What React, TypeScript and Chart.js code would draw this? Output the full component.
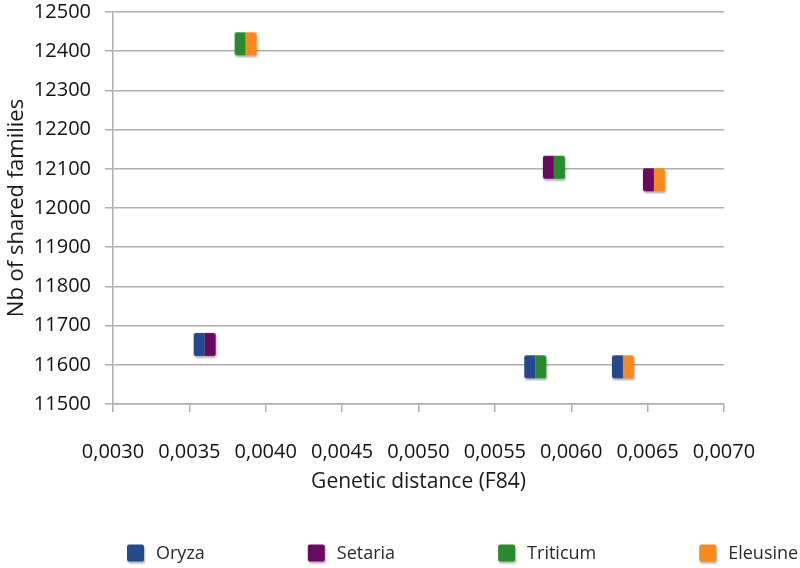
import React, { useEffect, useRef } from "react";
import { Chart, registerables } from "chart.js";

Chart.register(...registerables);

// ---- Data ----
const species = ["Oryza", "Setaria", "Triticum", "Eleusine"];
const speciesColors = ["#24498c", "#6a0a5e", "#2a8a2e", "#f7891f"];
// each pair: first species (left half of marker), second species (right half)
const pairFirst = [0, 2, 1, 1, 0, 0];
const pairSecond = [1, 3, 2, 3, 2, 3];
const pairDistance = [0.0036, 0.003868, 0.005886, 0.006541, 0.005764, 0.006338];
const pairShared = [11652, 12419, 12104, 12072, 11595, 11595];

const xMin = 0.003;
const xMax = 0.007;
const xStep = 0.0005;
const yMin = 11500;
const yMax = 12500;
const yStep = 100;

const FONT = "'Open Sans', 'Noto Sans', sans-serif";
const GRID = "#afafaf";

function halfMarker(color: string, side: "left" | "right"): HTMLCanvasElement {
  const pad = 3;
  const w = 22;
  const h = 23;
  const c = document.createElement("canvas");
  c.width = w + pad * 2;
  c.height = h + pad * 2;
  const ctx = c.getContext("2d")!;
  ctx.shadowColor = "rgba(0,0,0,0.3)";
  ctx.shadowOffsetX = 1;
  ctx.shadowOffsetY = 2;
  ctx.shadowBlur = 2;
  ctx.fillStyle = color;
  ctx.beginPath();
  const hw = w / 2;
  if (side === "left") {
    (ctx as any).roundRect(pad, pad, hw, h, [2, 0, 0, 2]);
  } else {
    (ctx as any).roundRect(pad + hw, pad, hw, h, [0, 2, 2, 0]);
  }
  ctx.fill();
  return c;
}

const legendPlugin = {
  id: "customLegend",
  afterDraw(chart: any) {
    const ctx = chart.ctx as CanvasRenderingContext2D;
    ctx.save();
    ctx.font = `18px ${FONT}`;
    ctx.textBaseline = "middle";
    ctx.textAlign = "left";
    let x = 127;
    const cy = 553;
    const box = 17;
    chart.data.datasets.forEach((ds: any) => {
      ctx.save();
      ctx.shadowColor = "rgba(0,0,0,0.3)";
      ctx.shadowOffsetX = 1;
      ctx.shadowOffsetY = 2;
      ctx.shadowBlur = 2;
      ctx.fillStyle = ds.backgroundColor;
      ctx.beginPath();
      (ctx as any).roundRect(x, cy - box / 2, box, box, 2);
      ctx.fill();
      ctx.restore();
      ctx.fillStyle = "#2a2a2a";
      ctx.fillText(ds.label, x + box + 12, cy + 1);
      const tw = ctx.measureText(ds.label).width;
      x += box + 12 + tw + 103;
    });
    ctx.restore();
  },
};

export default function App() {
  const ref = useRef<HTMLCanvasElement | null>(null);

  useEffect(() => {
    document.body.style.margin = "0";
    const canvas = ref.current!;
    const datasets = species.map((name, si) => {
      const data: { x: number; y: number }[] = [];
      const styles: HTMLCanvasElement[] = [];
      pairFirst.forEach((f, pi) => {
        if (f === si) {
          data.push({ x: pairDistance[pi], y: pairShared[pi] });
          styles.push(halfMarker(speciesColors[si], "left"));
        }
        if (pairSecond[pi] === si) {
          data.push({ x: pairDistance[pi], y: pairShared[pi] });
          styles.push(halfMarker(speciesColors[si], "right"));
        }
      });
      return {
        label: name,
        data,
        backgroundColor: speciesColors[si],
        borderColor: speciesColors[si],
        pointStyle: styles,
        pointRadius: 11,
        pointHoverRadius: 11,
        order: species.length - si,
      };
    });

    const chart = new Chart(canvas, {
      type: "scatter",
      data: { datasets: datasets as any },
      options: {
        responsive: false,
        animation: false,
        layout: { padding: { left: 0, right: 76, top: 8, bottom: 73 } },
        plugins: {
          legend: { display: false },
          tooltip: { enabled: false },
        },
        scales: {
          x: {
            type: "linear",
            position: "bottom",
            min: xMin,
            max: xMax,
            ticks: {
              stepSize: xStep,
              padding: 28,
              color: "#111111",
              font: { family: FONT, size: 20 },
              callback: (v: any) => Number(v).toFixed(4).replace(".", ","),
            },
            grid: {
              drawOnChartArea: false,
              drawTicks: true,
              tickLength: 8,
              color: GRID,
              lineWidth: 1.5,
            },
            border: { display: true, color: GRID, width: 1.5 },
            title: {
              display: true,
              text: "Genetic distance (F84)",
              color: "#1a1a1a",
              font: { family: FONT, size: 21 },
              padding: { top: 0, bottom: 0 },
            },
            afterFit: (s: any) => {
              s.height = 91;
            },
          },
          y: {
            type: "linear",
            min: yMin,
            max: yMax,
            ticks: {
              stepSize: yStep,
              padding: 14,
              color: "#111111",
              font: { family: FONT, size: 20 },
              callback: (v: any) => String(v),
            },
            grid: {
              color: GRID,
              lineWidth: 1.5,
              tickLength: 8,
            },
            border: { display: true, color: GRID, width: 1.5 },
            title: {
              display: true,
              text: "Nb of shared families",
              color: "#1a1a1a",
              font: { family: FONT, size: 22 },
              padding: { top: 4, bottom: 0 },
            },
            afterFit: (s: any) => {
              s.width = 113;
              s.paddingTop = 0;
              s.paddingBottom = 0;
            },
          },
        },
      } as any,
      plugins: [legendPlugin],
    });
    return () => chart.destroy();
  }, []);

  return (
    <div style={{ width: 800, height: 568, background: "#ffffff" }}>
      <canvas ref={ref} width={800} height={568} style={{ display: "block" }} />
    </div>
  );
}
